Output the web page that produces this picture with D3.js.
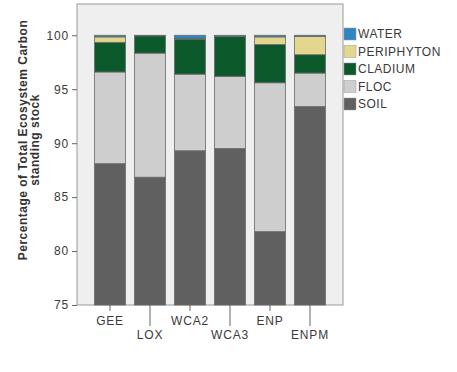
<!DOCTYPE html>
<html lang="en">
<head>
<meta charset="UTF-8">
<title>Ecosystem carbon</title>
<script src="https://d3js.org/d3.v7.min.js"></script>
<style>
  body { margin: 0; background: #fff; font-family: "Liberation Sans", Arial, sans-serif; }
  .axis text { fill: #3a3a3a; font-size: 12px; letter-spacing: 0.8px; }
  .axis line, .axis path { stroke: #666; }
</style>
</head>
<body>
<svg id="chart" width="457" height="372"></svg>
<script>
// data
const sites = ["GEE", "LOX", "WCA2", "WCA3", "ENP", "ENPM"];
const soil       = [88.1, 86.85, 89.3, 89.5, 81.8, 93.4];
const floc       = [8.5, 11.5, 7.1, 6.7, 13.8, 3.1];
const cladium    = [2.75, 1.6, 3.25, 3.7, 3.55, 1.7];
const periphyton = [0.5, 0.0, 0.05, 0.0, 0.7, 1.7];
const water      = [0.15, 0.05, 0.3, 0.1, 0.15, 0.1];
const yTicks = [75, 80, 85, 90, 95, 100];

const keys = ["SOIL", "FLOC", "CLADIUM", "PERIPHYTON", "WATER"];
const colors = {
  SOIL: "#606060",
  FLOC: "#cecece",
  CLADIUM: "#0c5a2c",
  PERIPHYTON: "#e3d68e",
  WATER: "#2f86c0"
};

const rows = sites.map((s, i) => ({
  site: s, SOIL: soil[i], FLOC: floc[i], CLADIUM: cladium[i],
  PERIPHYTON: periphyton[i], WATER: water[i]
}));

const plot = { left: 77, right: 343, top: 4, bottom: 305 };

const svg = d3.select("#chart");

const x = d3.scaleBand()
  .domain(sites)
  .range([plot.left, plot.right])
  .paddingInner(0.225)
  .paddingOuter(0.4375);

// axis starts at 75, so clamp the stack base to the bottom of the plot
const y = d3.scaleLinear()
  .domain([75, 102.9])
  .range([plot.bottom, plot.top])
  .clamp(true);

// plot background
svg.append("rect")
  .attr("x", plot.left)
  .attr("y", plot.top)
  .attr("width", plot.right - plot.left)
  .attr("height", plot.bottom - plot.top)
  .attr("fill", "#efefef")
  .attr("stroke", "#9a9a9a");

const stack = d3.stack().keys(keys)(rows);

svg.append("g")
  .selectAll("g")
  .data(stack)
  .join("g")
  .attr("fill", d => colors[d.key])
  .selectAll("rect")
  .data(d => d.filter(p => p[1] - p[0] > 0))
  .join("rect")
  .attr("x", d => x(d.data.site))
  .attr("width", x.bandwidth())
  .attr("y", d => y(d[1]))
  .attr("height", d => y(d[0]) - y(d[1]))
  .attr("stroke", "#6a6a6a")
  .attr("stroke-width", 0.8);

// y axis
svg.append("g")
  .attr("class", "axis")
  .attr("transform", `translate(${plot.left},0)`)
  .call(d3.axisLeft(y).tickValues(yTicks).tickSize(5).tickSizeOuter(0))
  .call(g => g.select(".domain").remove());

// x axis with staggered labels
const xAxis = svg.append("g")
  .attr("class", "axis")
  .attr("transform", `translate(0,${plot.bottom})`);

xAxis.selectAll("line")
  .data(sites)
  .join("line")
  .attr("x1", d => x(d) + x.bandwidth() / 2)
  .attr("x2", d => x(d) + x.bandwidth() / 2)
  .attr("y1", 0)
  .attr("y2", (d, i) => i % 2 ? 21 : 6);

xAxis.selectAll("text")
  .data(sites)
  .join("text")
  .attr("x", d => x(d) + x.bandwidth() / 2)
  .attr("y", (d, i) => i % 2 ? 34 : 20)
  .attr("text-anchor", "middle")
  .text(d => d);

// y axis title
const title = svg.append("text")
  .attr("transform", "translate(27,140) rotate(-90)")
  .attr("text-anchor", "middle")
  .attr("font-size", 12)
  .attr("font-weight", "bold")
  .attr("letter-spacing", 0.5)
  .attr("fill", "#333");
title.append("tspan").attr("x", 0).attr("dy", 0).text("Percentage of Total Ecosystem Carbon");
title.append("tspan").attr("x", 0).attr("dy", 12).text("standing stock");

// legend
const legend = svg.append("g")
  .attr("transform", "translate(344,34)");

const legendKeys = keys.slice().reverse();
const item = legend.selectAll("g")
  .data(legendKeys)
  .join("g")
  .attr("transform", (d, i) => `translate(0,${i * 17.5})`);

item.append("rect")
  .attr("x", 0)
  .attr("y", -6)
  .attr("width", 12)
  .attr("height", 12)
  .attr("fill", d => colors[d])
  .attr("stroke", "#999")
  .attr("stroke-width", 0.5);

item.append("text")
  .attr("x", 14)
  .attr("y", 0)
  .attr("dy", "0.35em")
  .attr("font-size", 12)
  .attr("letter-spacing", 0.5)
  .attr("fill", "#3a3a3a")
  .text(d => d);
</script>
</body>
</html>
